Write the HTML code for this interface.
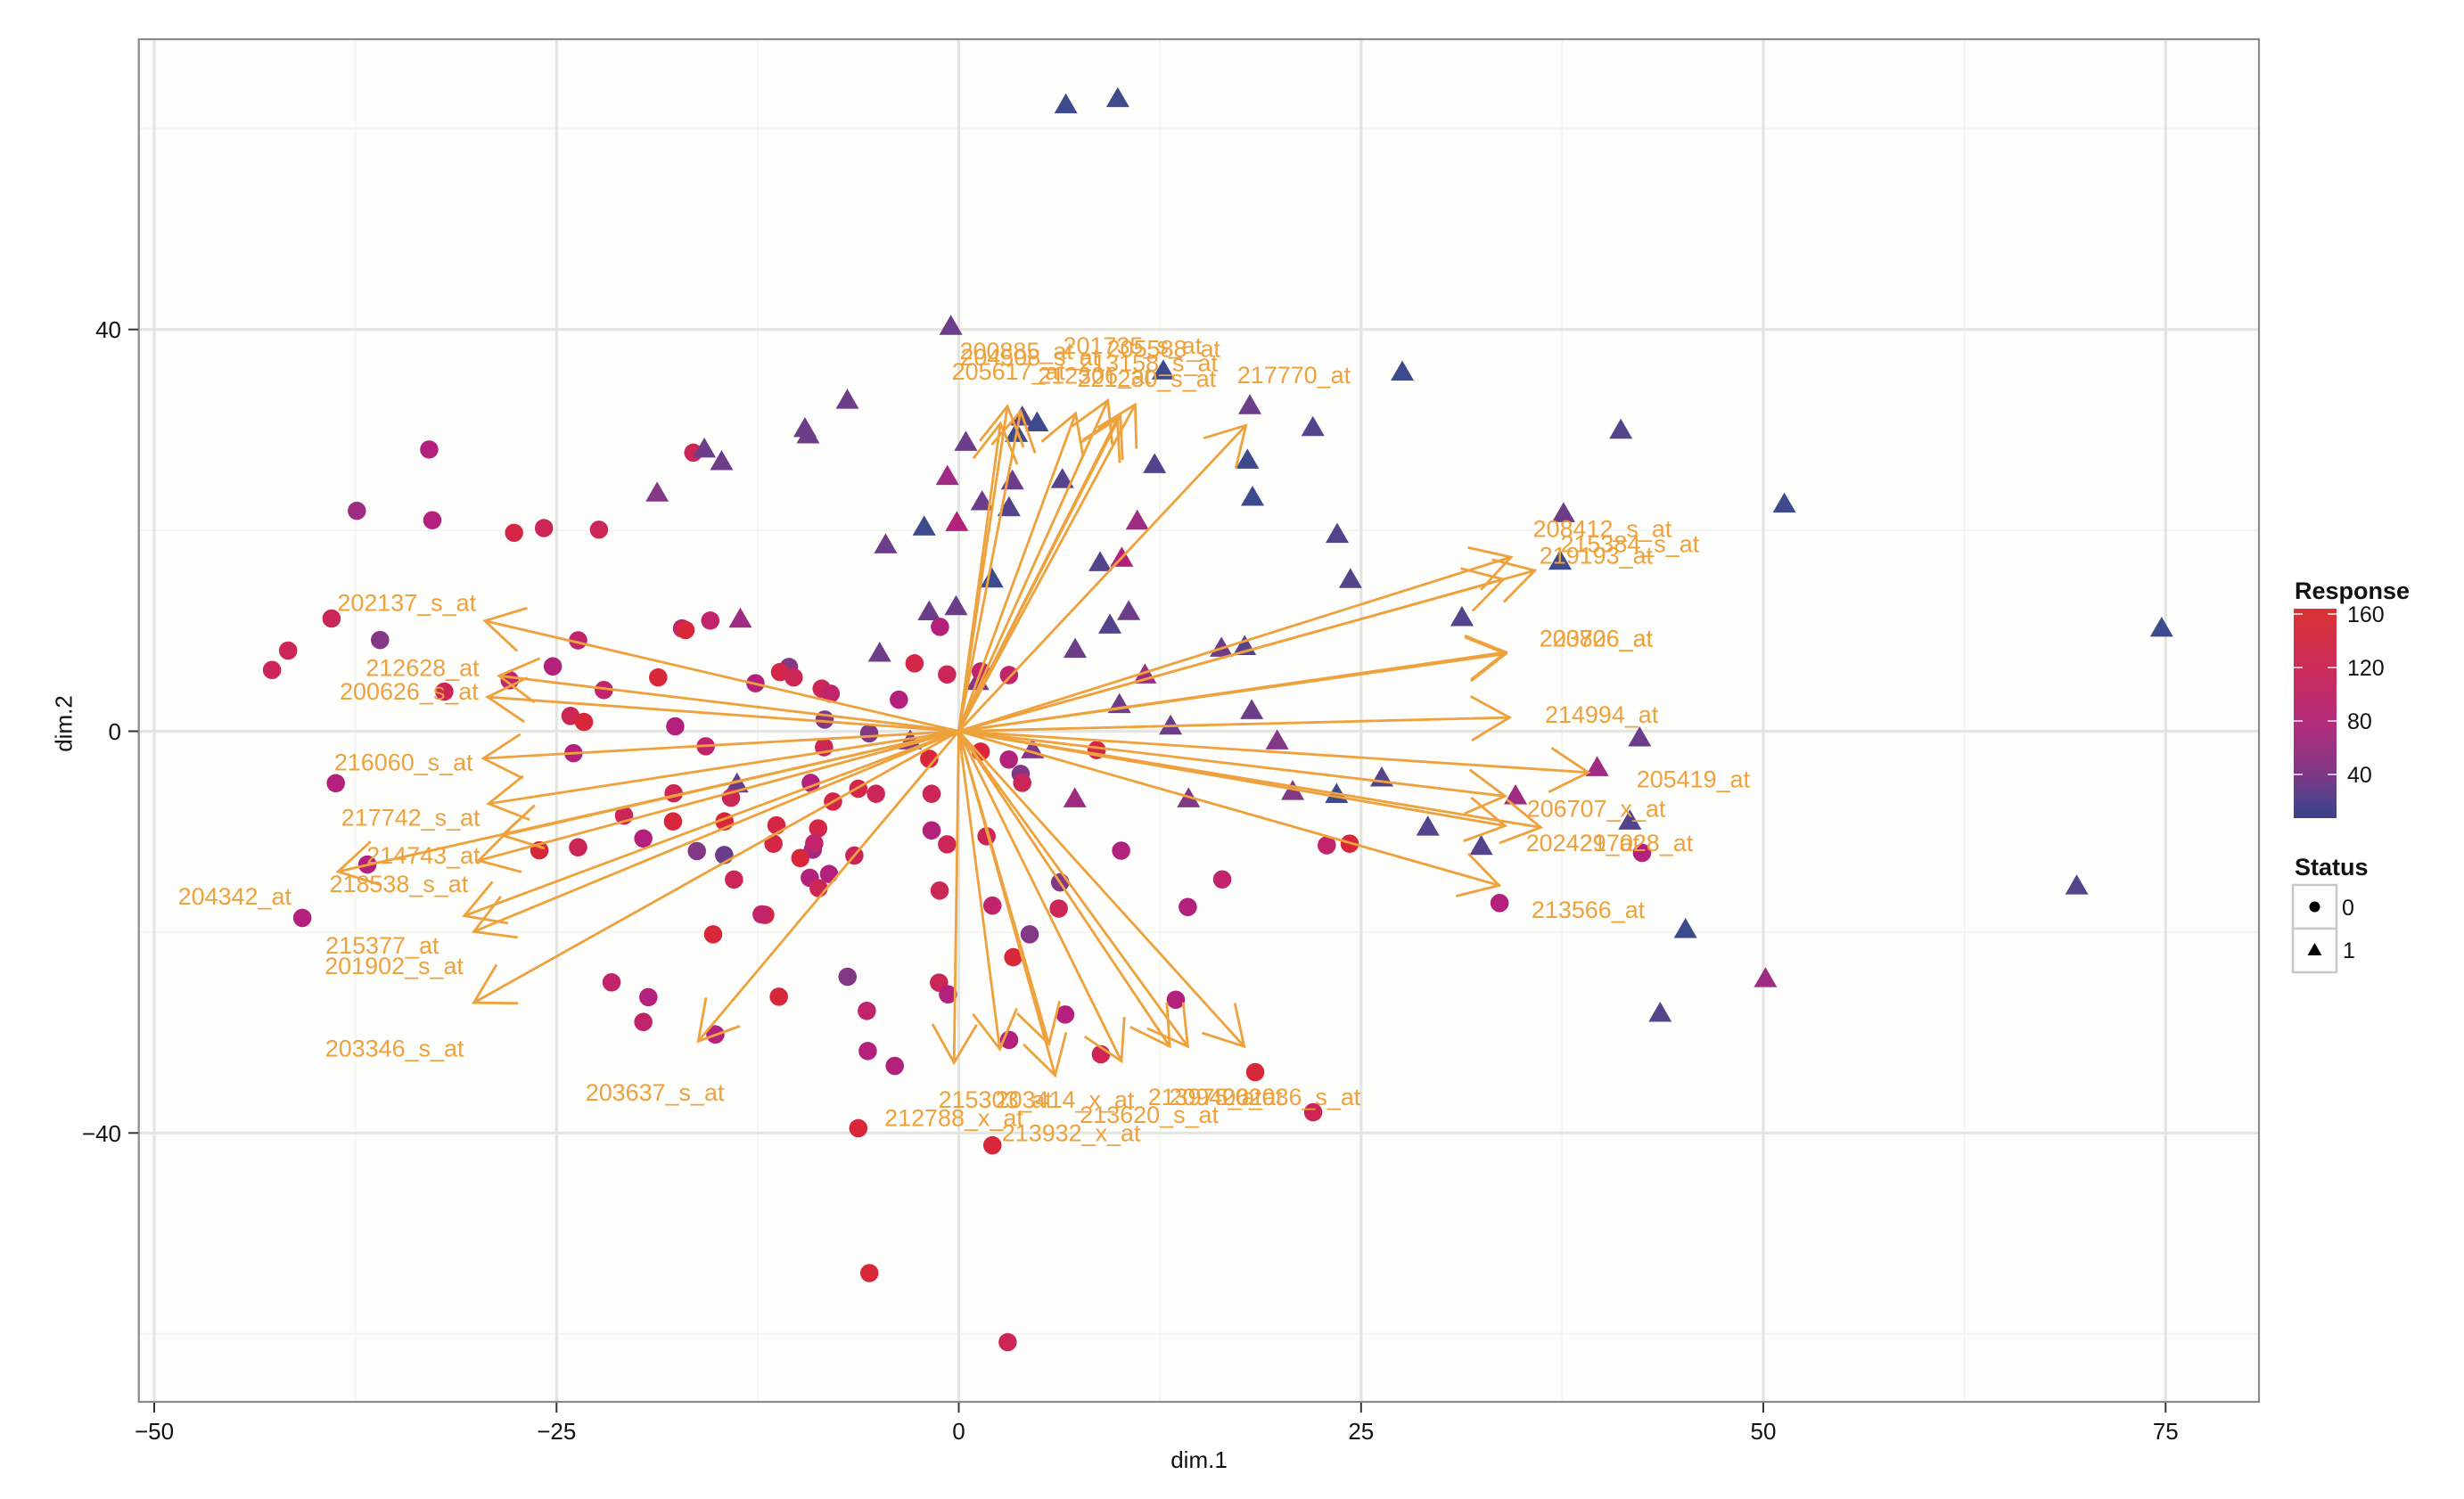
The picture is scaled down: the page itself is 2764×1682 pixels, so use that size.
<!DOCTYPE html>
<html><head><meta charset="utf-8"><style>
html,body{margin:0;padding:0;background:#fff}
svg{display:block}
.R{fill:#d8263a}.RC{fill:#d42646}.C{fill:#cc2656}.CM{fill:#c1246b}.M{fill:#b3217c}
.MP{fill:#9d2c82}.P{fill:#833886}.PP{fill:#6c3d88}.PN{fill:#55448b}.N{fill:#3d4a8c}
.arr path{fill:none;stroke:#EEA23E;stroke-width:1.6;marker-end:url(#ah)}
.lab text{fill:#EEA23E;font-size:15.2px;text-anchor:middle}
.ax text{fill:#111;font-size:26px}
</style></head><body>
<svg width="2764" height="1682" viewBox="0 0 2764 1682" xmlns="http://www.w3.org/2000/svg" font-family="'Liberation Sans', Arial, sans-serif">
<defs>
<linearGradient id="g" x1="0" y1="0" x2="0" y2="1">
<stop offset="0" stop-color="#d93334"/>
<stop offset="0.281" stop-color="#cc2c5a"/>
<stop offset="0.536" stop-color="#b52c7b"/>
<stop offset="0.791" stop-color="#7e3886"/>
<stop offset="0.93" stop-color="#4d428a"/>
<stop offset="1" stop-color="#3b4088"/>
</linearGradient>
<marker id="ah" markerUnits="userSpaceOnUse" markerWidth="60" markerHeight="60" viewBox="-30 -30 60 60" refX="0" refY="0" orient="auto" overflow="visible">
<path d="M-24.25,-14 L0,0 L-24.25,14" fill="none" stroke="#EEA23E" stroke-width="1.6"/>
</marker>
<path id="t" d="M0,-6.6L7.35,6.1L-7.35,6.1Z"/>
</defs>

<rect x="0" y="0" width="2764" height="1682" fill="#fff"/>
<rect x="155.7" y="44" width="2378.3" height="1529" fill="#fdfdfb"/>
<!-- minor grid -->
<g stroke="#f4f4f1" stroke-width="1.8">
<line x1="398.6" y1="44" x2="398.6" y2="1573"/>
<line x1="849.9" y1="44" x2="849.9" y2="1573"/>
<line x1="1301.1" y1="44" x2="1301.1" y2="1573"/>
<line x1="1752.4" y1="44" x2="1752.4" y2="1573"/>
<line x1="2203.6" y1="44" x2="2203.6" y2="1573"/>
<line x1="155.7" y1="144.3" x2="2534" y2="144.3"/>
<line x1="155.7" y1="595.1" x2="2534" y2="595.1"/>
<line x1="155.7" y1="1045.9" x2="2534" y2="1045.9"/>
<line x1="155.7" y1="1496.7" x2="2534" y2="1496.7"/>
</g>
<!-- major grid -->
<g stroke="#e4e4e0" stroke-width="3.2">
<line x1="173" y1="44" x2="173" y2="1573"/>
<line x1="624.3" y1="44" x2="624.3" y2="1573"/>
<line x1="1075.5" y1="44" x2="1075.5" y2="1573"/>
<line x1="1526.8" y1="44" x2="1526.8" y2="1573"/>
<line x1="1978" y1="44" x2="1978" y2="1573"/>
<line x1="2429.3" y1="44" x2="2429.3" y2="1573"/>
<line x1="155.7" y1="369.7" x2="2534" y2="369.7"/>
<line x1="155.7" y1="820.5" x2="2534" y2="820.5"/>
<line x1="155.7" y1="1271.3" x2="2534" y2="1271.3"/>
</g>

<!-- points from displayed-scale readings -->
<g transform="scale(1.7635)">
<circle cx="273" cy="286" r="5.8" class="M"/>
<circle cx="227" cy="325" r="5.8" class="MP"/>
<circle cx="275" cy="331" r="5.8" class="M"/>
<circle cx="327" cy="339" r="5.8" class="RC"/>
<circle cx="346" cy="336" r="5.8" class="C"/>
<circle cx="381" cy="337" r="5.8" class="C"/>
<circle cx="441" cy="288" r="5.8" class="C"/>
<circle cx="553" cy="810" r="5.8" class="R"/>
<circle cx="641" cy="854" r="5.8" class="C"/>
<use href="#t" x="678" y="66" class="N"/>
<use href="#t" x="711" y="62" class="N"/>
<use href="#t" x="448" y="285" class="PP"/>
<use href="#t" x="459" y="293" class="PP"/>
<use href="#t" x="418" y="313" class="P"/>
<use href="#t" x="512" y="272" class="PP"/>
<use href="#t" x="514" y="276" class="PP"/>
<use href="#t" x="539" y="254" class="PP"/>
<use href="#t" x="892" y="236" class="N"/>
<use href="#t" x="859" y="368" class="PN"/>
<use href="#t" x="1031" y="273" class="PN"/>
<use href="#t" x="1135" y="320" class="N"/>
<use href="#t" x="1375" y="399" class="N"/>
<use href="#t" x="1321" y="563" class="PN"/>
<use href="#t" x="1123" y="622" class="MP"/>
<use href="#t" x="1056" y="644" class="PN"/>
</g>

<!-- points, arrows, labels from zoom-scale readings -->
<g transform="scale(1.7718)">
<g>
<use href="#t" x="468.7" y="391.4" class="MP"/>
<use href="#t" x="576.3" y="468.5" class="P"/>
<use href="#t" x="556.9" y="413" class="PP"/>
<use href="#t" x="588.3" y="386.7" class="PP"/>
<use href="#t" x="605.3" y="383.5" class="PP"/>
<use href="#t" x="466.6" y="495.8" class="PP"/>
<use href="#t" x="611.5" y="279.4" class="PP"/>
<use href="#t" x="643.5" y="273.8" class="N"/>
<use href="#t" x="647.2" y="263.4" class="PN"/>
<use href="#t" x="656.6" y="267.1" class="N"/>
<use href="#t" x="599.8" y="301" class="MP"/>
<use href="#t" x="641" y="303.9" class="PP"/>
<use href="#t" x="672.6" y="303" class="PN"/>
<use href="#t" x="621.8" y="317" class="PP"/>
<use href="#t" x="638.8" y="320.8" class="PN"/>
<use href="#t" x="585.1" y="333" class="N"/>
<use href="#t" x="605.8" y="330.2" class="M"/>
<use href="#t" x="560.7" y="344.3" class="PP"/>
<use href="#t" x="731" y="293.5" class="PN"/>
<use href="#t" x="789.8" y="290.7" class="N"/>
<use href="#t" x="793" y="314.2" class="N"/>
<use href="#t" x="831.2" y="270" class="PN"/>
<use href="#t" x="720" y="329.3" class="MP"/>
<use href="#t" x="696.5" y="355.6" class="PN"/>
<use href="#t" x="710.2" y="352.8" class="M"/>
<use href="#t" x="846.6" y="337.7" class="PN"/>
<use href="#t" x="628" y="366" class="N"/>
<use href="#t" x="714.6" y="386.6" class="PP"/>
<use href="#t" x="702.7" y="395.1" class="PN"/>
<use href="#t" x="680.7" y="410.5" class="PP"/>
<use href="#t" x="773.3" y="409.8" class="PP"/>
<use href="#t" x="788" y="408.7" class="PN"/>
<use href="#t" x="724.9" y="426.7" class="MP"/>
<use href="#t" x="708.7" y="445.5" class="PP"/>
<use href="#t" x="792.5" y="449.3" class="PP"/>
<use href="#t" x="741.1" y="459.1" class="PP"/>
<use href="#t" x="808.6" y="468.5" class="P"/>
<use href="#t" x="653.7" y="474.1" class="P"/>
<use href="#t" x="619" y="430.9" class="P"/>
<use href="#t" x="680.5" y="505.2" class="MP"/>
<use href="#t" x="752.5" y="505.2" class="P"/>
<use href="#t" x="818.4" y="500.5" class="P"/>
<use href="#t" x="846.2" y="502.4" class="N"/>
<use href="#t" x="874.8" y="492" class="PN"/>
<use href="#t" x="904" y="523.1" class="PN"/>
<use href="#t" x="736.5" y="234.2" class="N"/>
<use href="#t" x="791.3" y="256.2" class="PP"/>
<use href="#t" x="602" y="206" class="PP"/>
<use href="#t" x="989.9" y="324.6" class="PP"/>
<use href="#t" x="987.7" y="354.7" class="N"/>
<use href="#t" x="1038.1" y="466.6" class="PP"/>
<use href="#t" x="1011.2" y="485.4" class="MP"/>
<use href="#t" x="959.5" y="503.3" class="MP"/>
<use href="#t" x="1031.9" y="519.3" class="PN"/>
<use href="#t" x="937.8" y="535.3" class="PN"/>
<use href="#t" x="1067.1" y="587.9" class="N"/>
<use href="#t" x="925.6" y="390.4" class="PN"/>
</g>
<g>
<circle cx="366" cy="405.5" r="5.8" class="CM"/>
<circle cx="350" cy="422" r="5.8" class="M"/>
<circle cx="431.8" cy="398" r="5.8" class="CM"/>
<circle cx="434" cy="399" r="5.8" class="R"/>
<circle cx="449.7" cy="393" r="5.8" class="CM"/>
<circle cx="382.3" cy="437" r="5.8" class="CM"/>
<circle cx="416.7" cy="429" r="5.8" class="R"/>
<circle cx="361.2" cy="453.4" r="5.8" class="C"/>
<circle cx="369.7" cy="457.2" r="5.8" class="R"/>
<circle cx="427.5" cy="460" r="5.8" class="M"/>
<circle cx="363.1" cy="477" r="5.8" class="M"/>
<circle cx="446.8" cy="472.6" r="5.8" class="CM"/>
<circle cx="478.3" cy="432.7" r="5.8" class="M"/>
<circle cx="499.5" cy="422.4" r="5.8" class="P"/>
<circle cx="493.9" cy="425.6" r="5.8" class="RC"/>
<circle cx="502.5" cy="429" r="5.8" class="C"/>
<circle cx="520.2" cy="436.1" r="5.8" class="C"/>
<circle cx="525.9" cy="439.3" r="5.8" class="CM"/>
<circle cx="522.1" cy="455.7" r="5.8" class="P"/>
<circle cx="550.3" cy="464.4" r="5.8" class="P"/>
<circle cx="521.7" cy="473.2" r="5.8" class="C"/>
<circle cx="579" cy="420.1" r="5.8" class="RC"/>
<circle cx="569.1" cy="443.1" r="5.8" class="M"/>
<circle cx="599.6" cy="427.1" r="5.8" class="C"/>
<circle cx="595.1" cy="397" r="5.8" class="M"/>
<circle cx="462.8" cy="505.2" r="5.8" class="C"/>
<circle cx="426.5" cy="502.4" r="5.8" class="C"/>
<circle cx="395.1" cy="516.5" r="5.8" class="C"/>
<circle cx="426.1" cy="520.2" r="5.8" class="R"/>
<circle cx="458.7" cy="520.2" r="5.8" class="R"/>
<circle cx="407.3" cy="531" r="5.8" class="M"/>
<circle cx="366" cy="536.6" r="5.8" class="C"/>
<circle cx="341.5" cy="538.5" r="5.8" class="R"/>
<circle cx="441.2" cy="539" r="5.8" class="P"/>
<circle cx="458.5" cy="541.5" r="5.8" class="PP"/>
<circle cx="464.7" cy="557" r="5.8" class="C"/>
<circle cx="513.3" cy="495.8" r="5.8" class="M"/>
<circle cx="543.4" cy="499.5" r="5.8" class="RC"/>
<circle cx="554.6" cy="502.7" r="5.8" class="C"/>
<circle cx="527.4" cy="507.6" r="5.8" class="RC"/>
<circle cx="589.8" cy="502.7" r="5.8" class="C"/>
<circle cx="588.3" cy="480.5" r="5.8" class="R"/>
<circle cx="491.6" cy="522.7" r="5.8" class="RC"/>
<circle cx="518" cy="524.6" r="5.8" class="RC"/>
<circle cx="489.7" cy="534.3" r="5.8" class="RC"/>
<circle cx="514.6" cy="538.1" r="5.8" class="MP"/>
<circle cx="515.5" cy="534" r="5.8" class="CM"/>
<circle cx="506.7" cy="543.4" r="5.8" class="R"/>
<circle cx="540.9" cy="541.8" r="5.8" class="C"/>
<circle cx="589.8" cy="525.9" r="5.8" class="M"/>
<circle cx="599.6" cy="534.7" r="5.8" class="C"/>
<circle cx="512.7" cy="555.9" r="5.8" class="M"/>
<circle cx="524.9" cy="553.5" r="5.8" class="M"/>
<circle cx="518.3" cy="562.5" r="5.8" class="C"/>
<circle cx="594.9" cy="564" r="5.8" class="C"/>
<circle cx="484.5" cy="579.4" r="5.8" class="R"/>
<circle cx="482.2" cy="579.1" r="5.8" class="CM"/>
<circle cx="451.5" cy="591.7" r="5.8" class="R"/>
<circle cx="536.6" cy="618.6" r="5.8" class="P"/>
<circle cx="387.2" cy="622.1" r="5.8" class="CM"/>
<circle cx="410.5" cy="631.5" r="5.8" class="M"/>
<circle cx="407.3" cy="647.2" r="5.8" class="CM"/>
<circle cx="452.9" cy="655.1" r="5.8" class="M"/>
<circle cx="493.1" cy="631.2" r="5.8" class="R"/>
<circle cx="548.8" cy="640.2" r="5.8" class="CM"/>
<circle cx="549.4" cy="665.6" r="5.8" class="M"/>
<circle cx="566.5" cy="675" r="5.8" class="M"/>
<circle cx="594.5" cy="622.3" r="5.8" class="C"/>
<circle cx="600.2" cy="629.7" r="5.8" class="M"/>
<circle cx="543.4" cy="714.5" r="5.8" class="R"/>
<circle cx="638.8" cy="427.5" r="5.8" class="CM"/>
<circle cx="621" cy="425.2" r="5.8" class="CM"/>
<circle cx="620.9" cy="476" r="5.8" class="R"/>
<circle cx="638.7" cy="481" r="5.8" class="M"/>
<circle cx="694.3" cy="475" r="5.8" class="RC"/>
<circle cx="646.2" cy="490.1" r="5.8" class="P"/>
<circle cx="647.2" cy="495.8" r="5.8" class="C"/>
<circle cx="624.6" cy="529.6" r="5.8" class="C"/>
<circle cx="709.8" cy="538.7" r="5.8" class="M"/>
<circle cx="671.2" cy="558.8" r="5.8" class="P"/>
<circle cx="670.3" cy="575.4" r="5.8" class="C"/>
<circle cx="628.3" cy="573.5" r="5.8" class="CM"/>
<circle cx="651.9" cy="591.7" r="5.8" class="P"/>
<circle cx="641.5" cy="606.2" r="5.8" class="R"/>
<circle cx="773.8" cy="556.9" r="5.8" class="CM"/>
<circle cx="752" cy="574.4" r="5.8" class="M"/>
<circle cx="744.4" cy="633.1" r="5.8" class="M"/>
<circle cx="674.4" cy="642.5" r="5.8" class="M"/>
<circle cx="840" cy="535.3" r="5.8" class="CM"/>
<circle cx="854.5" cy="534.3" r="5.8" class="R"/>
<circle cx="628.3" cy="725.3" r="5.8" class="R"/>
<circle cx="638.9" cy="658.6" r="5.8" class="M"/>
<circle cx="697" cy="667.7" r="5.8" class="C"/>
<circle cx="794.7" cy="679" r="5.8" class="R"/>
<circle cx="831.4" cy="704.4" r="5.8" class="C"/>
<circle cx="1039.6" cy="540.1" r="5.8" class="M"/>
<circle cx="949.4" cy="571.9" r="5.8" class="M"/>
<circle cx="209.9" cy="391.7" r="5.8" class="C"/>
<circle cx="240.6" cy="405.3" r="5.8" class="P"/>
<circle cx="182.4" cy="412" r="5.8" class="C"/>
<circle cx="172.2" cy="424.3" r="5.8" class="C"/>
<circle cx="281.3" cy="438" r="5.8" class="C"/>
<circle cx="322.7" cy="430.8" r="5.8" class="CM"/>
<circle cx="212.6" cy="496" r="5.8" class="M"/>
<circle cx="232.6" cy="547.5" r="5.8" class="M"/>
<circle cx="191.4" cy="581.3" r="5.8" class="M"/>
</g>

<g class="arr">
<path d="M607 463.1L307 393.2"/>
<path d="M607 463.1L316 428"/>
<path d="M607 463.1L308.7 441.4"/>
<path d="M607 463.1L306 480.3"/>
<path d="M607 463.1L309.3 509"/>
<path d="M607 463.1L318 529"/>
<path d="M607 463.1L303 545"/>
<path d="M607 463.1L214 552"/>
<path d="M607 463.1L294 580"/>
<path d="M607 463.1L300 590"/>
<path d="M607 463.1L300 635"/>
<path d="M607 463.1L442.1 659.4"/>
<path d="M607 463.1L956.6 352.8"/>
<path d="M607 463.1L971.7 361.3"/>
<path d="M607 463.1L951.9 366.9"/>
<path d="M607 463.1L953.4 413"/>
<path d="M607 463.1L953.4 414"/>
<path d="M607 463.1L955.7 454.4"/>
<path d="M607 463.1L1005.6 489.2"/>
<path d="M607 463.1L952.9 504.2"/>
<path d="M607 463.1L952.9 523"/>
<path d="M607 463.1L975.5 524"/>
<path d="M607 463.1L949.1 560.7"/>
<path d="M607 463.1L637.8 257.3"/>
<path d="M607 463.1L633.4 268.1"/>
<path d="M607 463.1L646.2 260.5"/>
<path d="M607 463.1L681 261.8"/>
<path d="M607 463.1L701.4 253.6"/>
<path d="M607 463.1L718.7 256.2"/>
<path d="M607 463.1L709.3 263.3"/>
<path d="M607 463.1L707.4 265.2"/>
<path d="M607 463.1L788.8 269.4"/>
<path d="M607 463.1L604 673"/>
<path d="M607 463.1L633 664.4"/>
<path d="M607 463.1L664.1 661.2"/>
<path d="M607 463.1L668 681"/>
<path d="M607 463.1L710 672"/>
<path d="M607 463.1L740.6 662.7"/>
<path d="M607 463.1L752 662.7"/>
<path d="M607 463.1L787.7 662.7"/>
</g>

<g class="lab">
<text x="257.5" y="387">202137_s_at</text>
<text x="267.5" y="428">212628_at</text>
<text x="259" y="443">200626_s_at</text>
<text x="255.5" y="488">216060_s_at</text>
<text x="260" y="523">217742_s_at</text>
<text x="268" y="547">214743_at</text>
<text x="252.5" y="565">218538_s_at</text>
<text x="148.6" y="573">204342_at</text>
<text x="242" y="604">215377_at</text>
<text x="249.5" y="617">201902_s_at</text>
<text x="249.8" y="669">203346_s_at</text>
<text x="414.6" y="697">203637_s_at</text>
<text x="1014.5" y="340">208412_s_at</text>
<text x="1031.9" y="349.6">215384_s_at</text>
<text x="1010.5" y="357.1">219193_at</text>
<text x="1010.5" y="409.6">203826_at</text>
<text x="1010.5" y="409.6">220706_at</text>
<text x="1014" y="457.6">214994_at</text>
<text x="1072" y="498.6">205419_at</text>
<text x="1010.6" y="517.4">206707_x_at</text>
<text x="1002" y="539">202429_at</text>
<text x="1036" y="539">217028_at</text>
<text x="1005.5" y="581.4">213566_at</text>
<text x="643.5" y="227.6">200885_at</text>
<text x="652" y="231.5">204508_s_at</text>
<text x="638.5" y="240.5">205617_at</text>
<text x="717" y="224">201735_s_at</text>
<text x="736.7" y="226">205588_at</text>
<text x="727" y="235">213158_s_at</text>
<text x="693" y="243">212306_at</text>
<text x="726" y="245">221230_s_at</text>
<text x="819.2" y="242.7">217770_at</text>
<text x="603.9" y="713">212788_x_at</text>
<text x="630" y="701.6">215303_at</text>
<text x="674.2" y="701.6">203414_x_at</text>
<text x="678.2" y="722.8">213932_x_at</text>
<text x="727.6" y="711.1">213620_s_at</text>
<text x="762.7" y="699.8">213975_at</text>
<text x="776" y="699.8">209406_at</text>
<text x="817.5" y="699.8">202036_s_at</text>
</g>
</g>

<!-- panel border -->
<rect x="155.7" y="44" width="2378.3" height="1529" fill="none" stroke="#8a8a8a" stroke-width="2.2"/>

<!-- axes ticks -->
<g stroke="#333" stroke-width="2">
<line x1="173" y1="1574" x2="173" y2="1585"/>
<line x1="624.3" y1="1574" x2="624.3" y2="1585"/>
<line x1="1075.5" y1="1574" x2="1075.5" y2="1585"/>
<line x1="1526.8" y1="1574" x2="1526.8" y2="1585"/>
<line x1="1978" y1="1574" x2="1978" y2="1585"/>
<line x1="2429.3" y1="1574" x2="2429.3" y2="1585"/>
<line x1="144" y1="369.7" x2="155" y2="369.7"/>
<line x1="144" y1="820.5" x2="155" y2="820.5"/>
<line x1="144" y1="1271.3" x2="155" y2="1271.3"/>
</g>
<g class="ax">
<g text-anchor="middle">
<text x="173" y="1615">−50</text>
<text x="624.3" y="1615">−25</text>
<text x="1075.5" y="1615">0</text>
<text x="1526.8" y="1615">25</text>
<text x="1978" y="1615">50</text>
<text x="2429.3" y="1615">75</text>
</g>
<g text-anchor="end">
<text x="136" y="379">40</text>
<text x="136" y="830">0</text>
<text x="136" y="1281">−40</text>
</g>
<text x="1345" y="1647" text-anchor="middle" font-size="31">dim.1</text>
<text transform="translate(80.5,812) rotate(-90)" text-anchor="middle" font-size="31">dim.2</text>
</g>

<!-- legend -->
<g fill="#111">
<text x="2574" y="672" font-size="27" font-weight="bold">Response</text>
<rect x="2573" y="683" width="48" height="235" fill="url(#g)"/>
<g stroke="#ffffff" stroke-width="1.6" opacity="0.85">
<line x1="2573" y1="689" x2="2583" y2="689"/><line x1="2611" y1="689" x2="2621" y2="689"/>
<line x1="2573" y1="749" x2="2583" y2="749"/><line x1="2611" y1="749" x2="2621" y2="749"/>
<line x1="2573" y1="809" x2="2583" y2="809"/><line x1="2611" y1="809" x2="2621" y2="809"/>
<line x1="2573" y1="869" x2="2583" y2="869"/><line x1="2611" y1="869" x2="2621" y2="869"/>
</g>
<text x="2633" y="698" font-size="25">160</text>
<text x="2633" y="758" font-size="25">120</text>
<text x="2633" y="818" font-size="25">80</text>
<text x="2633" y="878" font-size="25">40</text>
<text x="2574" y="982" font-size="27" font-weight="bold">Status</text>
<rect x="2572" y="993" width="49" height="49" fill="#fdfdfb" stroke="#c8c8c8" stroke-width="2.5"/>
<rect x="2572" y="1042" width="49" height="49" fill="#fdfdfb" stroke="#c8c8c8" stroke-width="2.5"/>
<circle cx="2596.5" cy="1017.5" r="6" fill="#000"/>
<path d="M2596.5,1058 L2604.5,1072 L2588.5,1072 Z" fill="#000"/>
<text x="2627" y="1027" font-size="25">0</text>
<text x="2628" y="1075" font-size="25">1</text>
</g>
</svg>
</body></html>
